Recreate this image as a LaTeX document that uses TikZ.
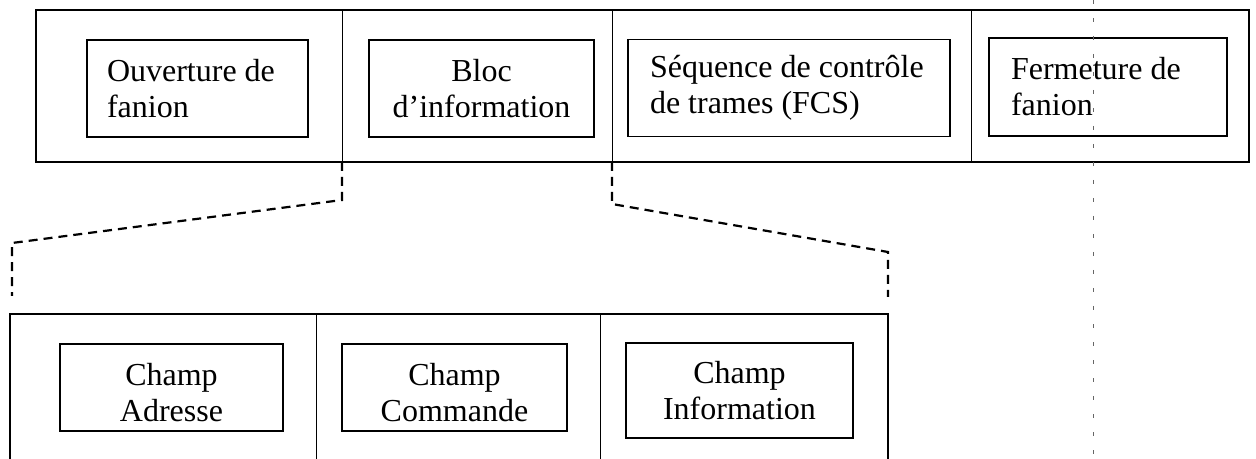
\documentclass[tikz,border=0pt]{standalone}
\usepackage{fontspec}
\setmainfont{Liberation Serif}
\begin{document}
\begin{tikzpicture}[x=0.5pt,y=-0.5pt,
  field/.style={draw, line width=0.7pt, rectangle, inner xsep=10pt, inner ysep=0pt,
                font=\fontsize{16}{18}\selectfont},
  frame/.style={line width=0.9pt},
  sep/.style={line width=0.5pt},
  link/.style={line width=1.1pt, dash pattern=on 4.5pt off 3pt},
  crease/.style={line width=0.3pt, black!60, dash pattern=on 2pt off 7pt}]
\useasboundingbox (0,0) rectangle (1256,459);

% ---- top frame ----
\coordinate (d1t) at (342,10);  \coordinate (d1b) at (342,162);
\coordinate (d2t) at (612,10);  \coordinate (d2b) at (612,162);
\coordinate (d3t) at (971,10);  \coordinate (d3b) at (971,162);
\draw[frame] (36,10) rectangle (1249,162);
\draw[sep] (d1t) -- (d1b);
\draw[sep] (d2t) -- (d2b);
\draw[sep] (d3t) -- (d3b);

\node[field, minimum width=110.5pt, minimum height=48.5pt, text width=90.5pt, align=flush left]
  (ouv) at (197.5,88.5) {Ouverture de\\fanion};
\node[field, minimum width=112.5pt, minimum height=48.5pt, text width=92.5pt, align=flush center]
  (bloc) at (481.5,88.5) {Bloc\\d’information};
\node[field, minimum width=161pt, minimum height=48.5pt, inner xsep=11pt, text width=139pt, align=flush left]
  (fcs) at (789,88) {Séquence de contrôle\\de trames (FCS)};
\node[field, minimum width=119pt, minimum height=49pt, inner xsep=11pt, text width=97pt, align=flush left]
  (ferm) at (1108,87) {Fermeture de\\fanion};

% ---- bottom frame ----
\coordinate (s0b) at (10,459);  \coordinate (s0t) at (10,314);
\coordinate (s1t) at (316,314); \coordinate (s1b) at (316,459);
\coordinate (s2t) at (600,314); \coordinate (s2b) at (600,459);
\coordinate (s3t) at (888,314); \coordinate (s3b) at (888,459);
\draw[frame] (s0b) -- (s0t) -- (s3t) -- (s3b);
\draw[sep] (s1t) -- (s1b);
\draw[sep] (s2t) -- (s2b);

\node[field, minimum width=111.5pt, minimum height=43.5pt, text width=91.5pt, align=flush center]
  (adr) at (171.5,387.5) {\rule{0pt}{16pt}Champ\\Adresse};
\node[field, minimum width=112.5pt, minimum height=43.5pt, text width=92.5pt, align=flush center]
  (cmd) at (454.5,387.5) {\rule{0pt}{16pt}Champ\\Commande};
\node[field, minimum width=113.5pt, minimum height=47.5pt, text width=93.5pt, align=flush center]
  (inf) at (739.5,390.5) {Champ\\Information};

% ---- dashed expansion links ----
\coordinate (kL1) at (342,200); \coordinate (kL2) at (12,243); \coordinate (eL) at (12,296);
\draw[link] (d1b) -- (kL1) -- (kL2) -- (eL);
\coordinate (kR1) at (612,204); \coordinate (kR2) at (888,252); \coordinate (eR) at (888,297);
\draw[link] (d2b) -- (kR1) -- (kR2) -- (eR);

% ---- faint crease line ----
\coordinate (c1) at (1093,0); \coordinate (c2) at (1093,459);
\draw[crease] (c1) -- (c2);
\end{tikzpicture}
\end{document}
